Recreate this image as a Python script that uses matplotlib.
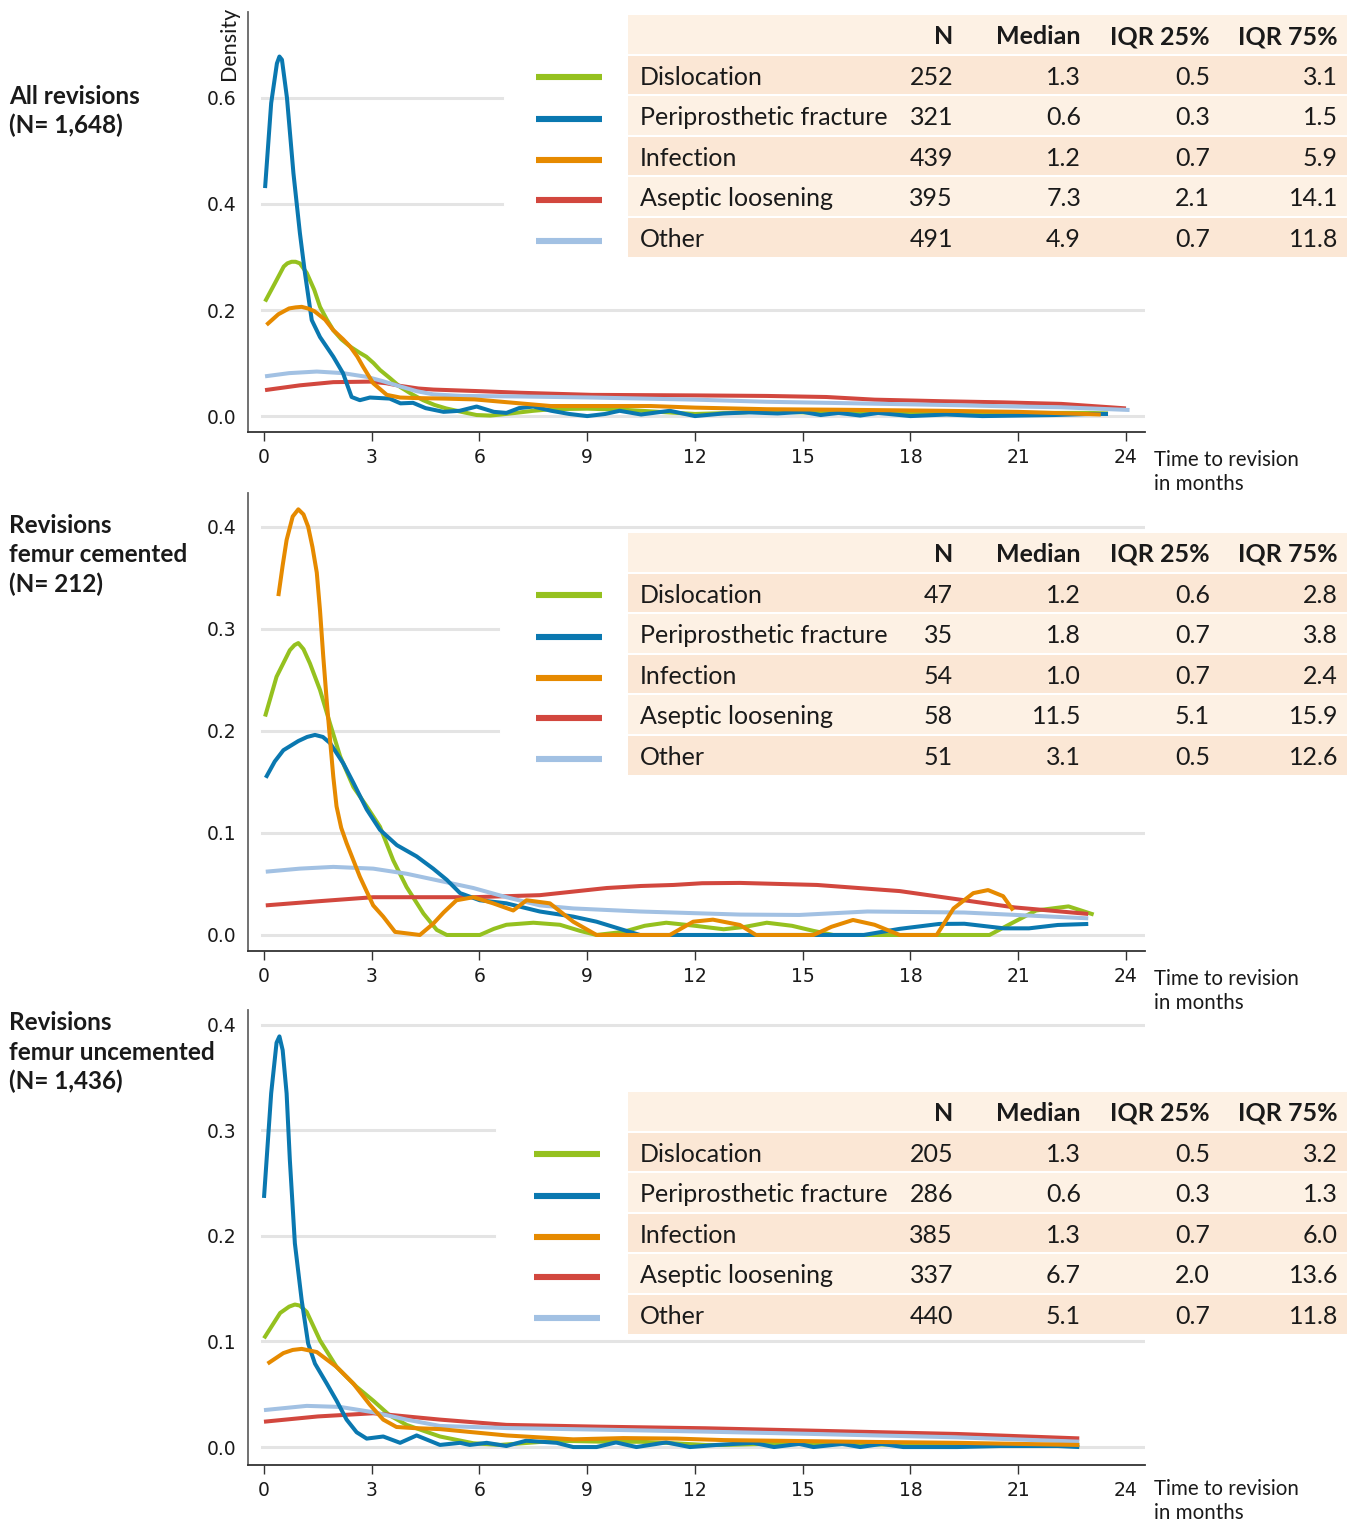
import matplotlib
matplotlib.use("Agg")
import matplotlib.pyplot as plt
from matplotlib.patches import Rectangle
from matplotlib.lines import Line2D

# ---- data: density curves (months, density) ----
# all revisions
all_disl_x = [0.03, 0.3, 0.55, 0.65, 0.77, 0.88, 1.0, 1.19, 1.4, 1.56, 1.75, 1.93, 2.15, 2.4, 2.65, 2.85, 3.05, 3.23, 3.5, 3.79,
              4.1, 4.43, 4.75, 5.07, 5.5, 5.92, 6.3, 6.6, 7.0, 7.5, 8.0, 9.0, 10.0, 11.0, 12.0, 13.0, 14.0, 15.0, 16.0, 17.0,
              18.0, 19.0, 20.0, 21.0, 22.0, 23.0, 23.5]
all_disl_y = [0.216, 0.25, 0.282, 0.288, 0.291, 0.291, 0.288, 0.27, 0.238, 0.206, 0.182, 0.162, 0.145, 0.131, 0.12, 0.112, 0.1, 0.087, 0.072, 0.055,
              0.042, 0.030, 0.021, 0.0145, 0.008, 0.002, 0.001, 0.003, 0.006, 0.010, 0.013, 0.014, 0.012, 0.008, 0.004, 0.006, 0.009, 0.007, 0.006, 0.007,
              0.006, 0.007, 0.006, 0.006, 0.006, 0.006, 0.005]
all_frac_x = [0.03, 0.2, 0.36, 0.43, 0.5, 0.64, 0.82, 1.0, 1.14, 1.33, 1.56, 1.93, 2.2, 2.44, 2.67, 2.95, 3.5, 3.8, 4.15, 4.5,
              5.0, 5.45, 5.92, 6.4, 6.75, 7.1, 7.5, 8.0, 8.5, 9.0, 9.5, 9.9, 10.5, 11.3, 12.0, 12.8, 13.5, 14.3, 15.0, 15.5,
              16.0, 16.6, 17.1, 18.0, 19.0, 20.0, 21.0, 22.0, 23.0, 23.5]
all_frac_y = [0.43, 0.59, 0.665, 0.678, 0.672, 0.60, 0.458, 0.345, 0.27, 0.181, 0.149, 0.112, 0.081, 0.036, 0.030, 0.035, 0.033, 0.024, 0.025, 0.015,
              0.008, 0.010, 0.018, 0.008, 0.006, 0.015, 0.018, 0.010, 0.004, 0.0, 0.004, 0.010, 0.003, 0.010, 0.0, 0.005, 0.007, 0.005, 0.008, 0.002,
              0.006, 0.001, 0.006, 0.0, 0.003, 0.0, 0.001, 0.002, 0.004, 0.004]
all_inf_x = [0.07, 0.4, 0.7, 0.88, 1.05, 1.22, 1.4, 1.7, 1.93, 2.2, 2.4, 2.6, 2.76, 3.04, 3.42, 3.79, 4.23, 5.0, 5.86, 7.13,
             7.98, 9.0, 10.76, 12.0, 14.0, 16.0, 18.9, 21.0, 23.3]
all_inf_y = [0.172, 0.192, 0.203, 0.205, 0.206, 0.203, 0.198, 0.182, 0.162, 0.145, 0.131, 0.112, 0.093, 0.062, 0.040, 0.035, 0.034, 0.033, 0.0315, 0.024,
             0.019, 0.019, 0.019, 0.016, 0.013, 0.012, 0.010, 0.008, 0.003]
all_asep_x = [0.03, 1.0, 1.93, 2.95, 3.4, 3.79, 4.3, 4.72, 6.0, 7.13, 9.13, 12.0, 14.0, 15.66, 17.0, 18.9, 20.5, 22.2, 24.0]
all_asep_y = [0.049, 0.058, 0.064, 0.065, 0.062, 0.057, 0.052, 0.050, 0.047, 0.044, 0.040, 0.039, 0.038, 0.036, 0.031, 0.028, 0.026, 0.023, 0.0145]
all_oth_x = [0.03, 0.7, 1.47, 2.2, 2.86, 3.3, 3.79, 4.25, 4.71, 5.5, 7.13, 9.13, 12.0, 14.0, 16.5, 18.9, 21.0, 22.2, 24.1]
all_oth_y = [0.075, 0.081, 0.084, 0.081, 0.074, 0.066, 0.056, 0.047, 0.041, 0.038, 0.037, 0.035, 0.031, 0.027, 0.024, 0.021, 0.018, 0.0166, 0.0115]

# femur cemented
cem_disl_x = [0.03, 0.35, 0.72, 0.85, 0.956, 1.1, 1.28, 1.56, 1.84, 2.12, 2.49, 2.86, 3.23, 3.6, 3.97, 4.44, 4.81, 5.09, 6.01, 6.4,
              6.75, 7.5, 8.24, 8.8, 9.26, 10.0, 10.6, 11.2, 12.0, 12.8, 13.4, 14.0, 14.7, 15.3, 15.85, 20.2, 20.9, 21.5, 22.4, 23.1]
cem_disl_y = [0.214, 0.253, 0.279, 0.284, 0.286, 0.28, 0.266, 0.240, 0.207, 0.175, 0.145, 0.126, 0.106, 0.073, 0.047, 0.021, 0.005, 0.0, 0.0, 0.006,
              0.010, 0.012, 0.010, 0.004, 0.0, 0.003, 0.009, 0.012, 0.009, 0.0056, 0.008, 0.012, 0.009, 0.004, 0.0, 0.0, 0.013, 0.024, 0.028, 0.020]
cem_frac_x = [0.05, 0.3, 0.54, 0.956, 1.2, 1.42, 1.64, 1.84, 2.21, 2.49, 2.86, 3.23, 3.7, 4.25, 4.71, 5.09, 5.46, 6.01, 6.75, 7.68,
              8.61, 9.26, 10.0, 10.47, 16.7, 17.7, 18.8, 19.5, 20.6, 21.3, 22.1, 22.95]
cem_frac_y = [0.154, 0.17, 0.181, 0.190, 0.194, 0.196, 0.194, 0.188, 0.168, 0.149, 0.123, 0.103, 0.088, 0.077, 0.065, 0.054, 0.041, 0.034, 0.031, 0.023,
              0.018, 0.013, 0.005, 0.0, 0.0, 0.006, 0.0108, 0.011, 0.0065, 0.0065, 0.0098, 0.0108]
cem_inf_x = [0.40, 0.52, 0.63, 0.8, 0.956, 1.1, 1.23, 1.35, 1.47, 1.56, 1.65, 1.75, 1.84, 1.93, 2.02, 2.15, 2.30, 2.67, 3.04, 3.32,
             3.65, 4.34, 4.71, 5.0, 5.36, 5.83, 6.38, 6.94, 7.31, 7.96, 8.61, 9.26, 11.3, 11.95, 12.5, 13.25, 13.7, 15.3, 15.8, 16.4,
             17.0, 17.7, 18.73, 19.2, 19.75, 20.16, 20.58, 20.86]
cem_inf_y = [0.332, 0.362, 0.387, 0.41, 0.417, 0.412, 0.400, 0.38, 0.355, 0.318, 0.273, 0.228, 0.191, 0.155, 0.126, 0.105, 0.090, 0.057, 0.029, 0.018,
             0.003, 0.0, 0.011, 0.022, 0.034, 0.037, 0.031, 0.024, 0.034, 0.031, 0.013, 0.0, 0.0, 0.013, 0.015, 0.0098, 0.0, 0.0, 0.008, 0.0147,
             0.010, 0.0, 0.0, 0.026, 0.041, 0.044, 0.038, 0.024]
cem_asep_x = [0.05, 1.5, 3.04, 5.83, 7.68, 9.54, 10.5, 11.4, 12.2, 13.25, 15.4, 17.7, 19.5, 20.9, 22.95]
cem_asep_y = [0.029, 0.033, 0.037, 0.037, 0.039, 0.046, 0.048, 0.049, 0.0507, 0.051, 0.049, 0.043, 0.034, 0.027, 0.0206]
cem_oth_x = [0.05, 1.0, 1.93, 3.04, 3.97, 4.9, 5.83, 6.75, 7.68, 8.61, 10.47, 13.25, 14.9, 16.8, 19.5, 22.95]
cem_oth_y = [0.062, 0.065, 0.0667, 0.065, 0.060, 0.053, 0.046, 0.037, 0.029, 0.026, 0.023, 0.020, 0.0196, 0.023, 0.022, 0.0163]

# femur uncemented
unc_disl_x = [0.0, 0.45, 0.7, 0.86, 1.0, 1.19, 1.56, 2.02, 2.58, 3.04, 3.5, 3.97, 4.9, 5.83, 6.57, 7.2, 8.15, 9.54, 10.5, 11.4,
              12.3, 12.8, 14.0, 16.0, 18.0, 20.0, 22.7]
unc_disl_y = [0.103, 0.127, 0.133, 0.135, 0.134, 0.128, 0.101, 0.076, 0.057, 0.044, 0.030, 0.021, 0.010, 0.0036, 0.002, 0.0036, 0.006, 0.005, 0.005, 0.0036,
              0.002, 0.002, 0.003, 0.003, 0.002, 0.002, 0.002]
unc_frac_x = [0.0, 0.2, 0.35, 0.43, 0.52, 0.63, 0.72, 0.86, 1.05, 1.23, 1.42, 1.75, 2.02, 2.3, 2.58, 2.86, 3.32, 3.79, 4.25, 4.9,
              5.46, 5.73, 6.2, 6.75, 7.3, 8.15, 8.61, 9.26, 9.8, 10.37, 11.2, 11.86, 12.6, 13.63, 14.2, 14.9, 15.3, 16.1, 16.6, 17.2,
              17.8, 19.3, 20.5, 22.1, 22.7]
unc_frac_y = [0.236, 0.335, 0.383, 0.389, 0.376, 0.335, 0.272, 0.193, 0.139, 0.098, 0.079, 0.060, 0.044, 0.026, 0.014, 0.008, 0.010, 0.004, 0.011, 0.002,
              0.004, 0.002, 0.004, 0.001, 0.006, 0.004, 0.0, 0.0, 0.0044, 0.0, 0.0044, 0.0, 0.002, 0.004, 0.0, 0.003, 0.0, 0.003, 0.0, 0.003,
              0.0, 0.0, 0.001, 0.001, 0.0]
unc_inf_x = [0.1, 0.54, 0.8, 1.05, 1.47, 2.02, 2.49, 2.95, 3.32, 3.69, 4.16, 4.9, 6.75, 8.61, 10.0, 11.5, 12.8, 16.3, 19.3, 22.7]
unc_inf_y = [0.079, 0.089, 0.092, 0.093, 0.090, 0.076, 0.060, 0.040, 0.026, 0.019, 0.018, 0.017, 0.011, 0.0073, 0.0085, 0.008, 0.0066, 0.0051, 0.004, 0.002]
unc_asep_x = [0.0, 1.5, 3.04, 3.97, 4.9, 6.75, 9.35, 12.3, 15.3, 19.3, 22.7]
unc_asep_y = [0.024, 0.029, 0.032, 0.029, 0.026, 0.021, 0.0193, 0.0178, 0.0155, 0.0124, 0.0082]
unc_oth_x = [0.0, 1.19, 2.12, 3.04, 3.97, 4.9, 6.75, 9.35, 12.3, 15.3, 19.3, 22.7]
unc_oth_y = [0.035, 0.039, 0.038, 0.033, 0.026, 0.020, 0.018, 0.0165, 0.0146, 0.0124, 0.0092, 0.0051]

# ---- table values ----
categories = ["Dislocation", "Periprosthetic fracture", "Infection", "Aseptic loosening", "Other"]
col_headers = ["N", "Median", "IQR 25%", "IQR 75%"]
all_n = [252, 321, 439, 395, 491]
all_median = [1.3, 0.6, 1.2, 7.3, 4.9]
all_q25 = [0.5, 0.3, 0.7, 2.1, 0.7]
all_q75 = [3.1, 1.5, 5.9, 14.1, 11.8]
cem_n = [47, 35, 54, 58, 51]
cem_median = [1.2, 1.8, 1.0, 11.5, 3.1]
cem_q25 = [0.6, 0.7, 0.7, 5.1, 0.5]
cem_q75 = [2.8, 3.8, 2.4, 15.9, 12.6]
unc_n = [205, 286, 385, 337, 440]
unc_median = [1.3, 0.6, 1.3, 6.7, 5.1]
unc_q25 = [0.5, 0.3, 0.7, 2.0, 0.7]
unc_q75 = [3.2, 1.3, 6.0, 13.6, 11.8]

x_ticks = [0, 3, 6, 9, 12, 15, 18, 21, 24]

# ---- styles ----
W, H = 1354, 1523
GREEN = '#95c11f'
BLUE = '#0a78b0'
ORANGE = '#e68a00'
RED = '#d2473e'
LIGHT = '#a2c1e3'
colors = [GREEN, BLUE, ORANGE, RED, LIGHT]
ROW_LIGHT = '#fdf1e4'
ROW_DARK = '#fbe7d5'
GRID = '#e4e4e4'

plt.rcParams['font.family'] = ['Lato', 'DejaVu Sans']
plt.rcParams['text.color'] = '#1a1a1a'

fig = plt.figure(figsize=(W / 100, H / 100), dpi=100)


def fx(x):
    return x / W


def fy(y):
    return 1 - y / H


def draw_panel(top, bottom, ylim, yticks, short_grid, short_end, curves, table, title_lines, title_base,
               leg_x0, leg_x1, table_top, xlab_base, tick24=True):
    ax = fig.add_axes([fx(248), fy(bottom), fx(1145 - 248), (bottom - top) / H])
    ax.set_xlim(-0.445, 24.53)
    ax.set_ylim(*ylim)

    # gridlines, some cut short where the legend sits
    for v in yticks:
        end = (short_end - 248) / 897 if v in short_grid else 1
        ax.axhline(v, xmin=14 / 897, xmax=end, color=GRID, lw=2.2, zorder=0)

    # curves
    order = [0, 3, 4, 1, 2]
    for i in order:
        x, y = curves[i]
        ax.plot(x, y, color=colors[i], lw=2.9, solid_joinstyle='round', solid_capstyle='butt',
                zorder=2 + order.index(i) * 0.1)

    ax.spines['top'].set_visible(False)
    ax.spines['right'].set_visible(False)
    ax.spines['left'].set_color('#666666')
    ax.spines['bottom'].set_color('#333333')
    ax.spines['left'].set_linewidth(1.3)
    ax.spines['bottom'].set_linewidth(1.3)

    ax.set_xticks(x_ticks)
    ax.set_xticklabels([str(t) for t in x_ticks])
    ax.set_yticks(yticks)
    ax.set_yticklabels(["%.1f" % v for v in yticks])
    ax.tick_params(axis='x', length=6.5, width=1, color='#333333', labelsize=13.5, pad=5,
                   labelfontfamily='DejaVu Sans', labelcolor='#1a1a1a')
    ax.tick_params(axis='y', length=0, labelsize=13.5, pad=8.6,
                   labelfontfamily='DejaVu Sans', labelcolor='#1a1a1a')
    if not tick24:
        ax.xaxis.get_major_ticks()[-1].tick1line.set_visible(False)

    # left title, one line at a time
    for k, line in enumerate(title_lines):
        fig.text(fx(9), fy(title_base + k * 29.5), line, va='baseline', ha='left',
                 fontsize=17.5, fontweight='bold')

    # x label
    fig.text(fx(1154), fy(xlab_base), "Time to revision", va='baseline', ha='left', fontsize=14.8)
    fig.text(fx(1154), fy(xlab_base + 24), "in months", va='baseline', ha='left', fontsize=14.8)

    # table with legend lines
    n, med, q25, q75 = table
    row_h = 40.6
    cols_right = [953, 1081, 1210, 1338]
    for i in range(6):
        y0 = table_top + i * row_h
        fc = ROW_LIGHT if i % 2 == 0 else ROW_DARK
        fig.patches.append(Rectangle((fx(628), fy(y0 + row_h - 2)), fx(1347 - 628), (row_h - 2) / H,
                                     transform=fig.transFigure, facecolor=fc, edgecolor='none', zorder=1))
        yb = fy(y0 + 29)
        if i == 0:
            for j, hd in enumerate(col_headers):
                fig.text(fx(cols_right[j]), yb, hd, ha='right', va='baseline', fontsize=18, fontweight='bold')
        else:
            k = i - 1
            fig.text(fx(640), yb, categories[k], ha='left', va='baseline', fontsize=18)
            vals = [str(n[k]), "%.1f" % med[k], "%.1f" % q25[k], "%.1f" % q75[k]]
            for j, s in enumerate(vals):
                fig.text(fx(cols_right[j]), yb, s, ha='right', va='baseline', fontsize=18)
            yl = fy(y0 + 21 + min(k, 1) * 2)
            fig.lines.append(Line2D([fx(leg_x0), fx(leg_x1)], [yl, yl], transform=fig.transFigure,
                                    color=colors[k], lw=4.4, solid_capstyle='butt'))
    return ax


draw_panel(12, 432, (-0.030, 0.762), [0.0, 0.2, 0.4, 0.6], [0.4, 0.6], 502,
           [(all_disl_x, all_disl_y), (all_frac_x, all_frac_y), (all_inf_x, all_inf_y),
            (all_asep_x, all_asep_y), (all_oth_x, all_oth_y)],
           (all_n, all_median, all_q25, all_q75),
           ["All revisions", "(N= 1,648)"], 104, 536, 602, 15, 466)

draw_panel(493, 951, (-0.0157, 0.433), [0.0, 0.1, 0.2, 0.3, 0.4], [0.2, 0.3], 498,
           [(cem_disl_x, cem_disl_y), (cem_frac_x, cem_frac_y), (cem_inf_x, cem_inf_y),
            (cem_asep_x, cem_asep_y), (cem_oth_x, cem_oth_y)],
           (cem_n, cem_median, cem_q25, cem_q75),
           ["Revisions", "femur cemented", "(N= 212)"], 533, 536, 602, 533, 985)

draw_panel(1010, 1465, (-0.017, 0.414), [0.0, 0.1, 0.2, 0.3, 0.4], [0.2, 0.3], 494,
           [(unc_disl_x, unc_disl_y), (unc_frac_x, unc_frac_y), (unc_inf_x, unc_inf_y),
            (unc_asep_x, unc_asep_y), (unc_oth_x, unc_oth_y)],
           (unc_n, unc_median, unc_q25, unc_q75),
           ["Revisions", "femur uncemented", "(N= 1,436)"], 1030, 534, 600, 1092, 1495, tick24=False)

fig.text(fx(229), fy(43), "Density", rotation=90, ha='center', va='center', fontsize=15.5)

fig.savefig("out.png", dpi=100)
